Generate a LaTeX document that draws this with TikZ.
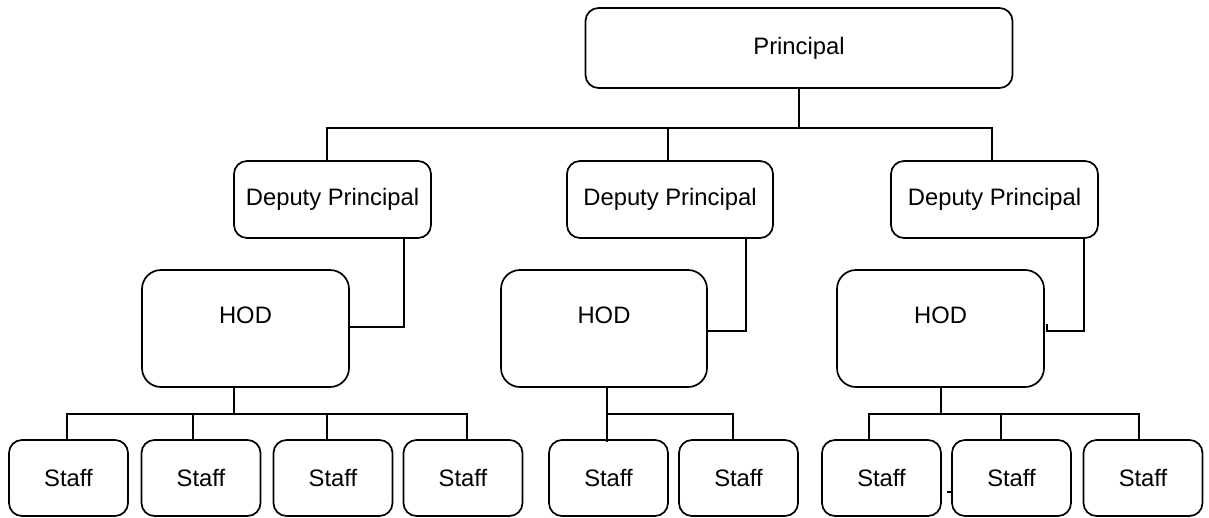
\documentclass[tikz,border=0pt]{standalone}
\usepackage{fontspec}
\setmainfont{Liberation Sans}
\usetikzlibrary{calc}
\begin{document}
\begin{tikzpicture}[x=1pt,y=-1pt,line width=1.7pt,
  box/.style={draw,rounded corners=13pt,inner sep=0pt,outer sep=0pt,
    font=\fontsize{23.8}{28}\selectfont},
  headbox/.style={box,minimum width=427pt,minimum height=80pt},
  deputybox/.style={box,minimum height=77pt},
  hodbox/.style={box,rounded corners=19pt,minimum width=207pt,minimum height=117pt},
  hodlabel/.style={anchor=center,yshift=-45pt,font=\fontsize{23.8}{28}\selectfont},
  staffbox/.style={box,minimum width=119pt,minimum height=76pt}]
\useasboundingbox (0,0) rectangle (1209,517);

% top level
\node[headbox] (p) at (799,48) {Principal};

% deputies
\node[deputybox,minimum width=197pt] (dp1) at (332.5,199.5) {Deputy Principal};
\node[deputybox,minimum width=206pt] (dp2) at (670,199.5) {Deputy Principal};
\node[deputybox,minimum width=207pt] (dp3) at (994.5,199.5) {Deputy Principal};

% heads of department (label sits in the upper part of the box)
\node[hodbox,label={[hodlabel]north:HOD}] (hod1) at (245.5,328.5) {};
\node[hodbox,minimum width=206pt,label={[hodlabel]north:HOD}] (hod2) at (604,328.5) {};
\node[hodbox,label={[hodlabel]north:HOD}] (hod3) at (940.5,328.5) {};

% staff
\node[staffbox] (s1) at (68.5,478) {Staff};
\node[staffbox] (s2) at (201,478) {Staff};
\node[staffbox] (s3) at (333,478) {Staff};
\node[staffbox] (s4) at (463,478) {Staff};
\node[staffbox] (s5) at (608.5,478) {Staff};
\node[staffbox] (s6) at (738.5,478) {Staff};
\node[staffbox] (s7) at (881.5,478) {Staff};
\node[staffbox] (s8) at (1011.5,478) {Staff};
\node[staffbox] (s9) at (1143,478) {Staff};

% principal to deputies
\coordinate (bus0) at ($(p.south)+(0,40)$);
\draw (p.south) -- (bus0);
\draw (bus0) -| ([xshift=-5.5pt]dp1.north);
\draw (bus0) -| ([xshift=-2pt]dp2.north);
\draw (bus0) -| ([xshift=-2.5pt]dp3.north);

% deputies to heads of department
\draw ([xshift=71.5pt]dp1.south) |- ([yshift=1.5pt]hod1.east);
\draw ([xshift=76pt]dp2.south) |- ([yshift=-2.5pt]hod2.east);
\draw ([xshift=89.5pt]dp3.south) |- ([xshift=3pt,yshift=-2.5pt]hod3.east) -- ++(0,-7);

% first department
\coordinate (h1b) at ($([xshift=-11.5pt]hod1.south)+(0,27)$);
\draw ([xshift=-11.5pt]hod1.south) -- (h1b);
\draw (h1b) -| ([xshift=-1.5pt]s1.north);
\draw (h1b) -| ([xshift=-8pt]s2.north);
\draw (h1b) -| ([xshift=-6pt]s3.north);
\draw (h1b) -| ([xshift=4pt]s4.north);

% second department
\coordinate (h2b) at ($([xshift=3pt]hod2.south)+(0,27)$);
\draw ([xshift=3pt]hod2.south) -- ([xshift=-1.5pt,yshift=-2pt]s5.north);
\draw (h2b) -| ([xshift=-5.5pt]s6.north);

% third department
\coordinate (h3b) at ($([xshift=0.5pt]hod3.south)+(0,27)$);
\draw ([xshift=0.5pt]hod3.south) -- (h3b);
\draw (h3b) -| ([xshift=-12.5pt]s7.north);
\draw (h3b) -| ([xshift=-10.5pt]s8.north);
\draw (h3b) -| ([xshift=-4pt]s9.north);
\draw ([yshift=-14pt]s8.west) -- ++(-5,0);
\end{tikzpicture}
\end{document}
